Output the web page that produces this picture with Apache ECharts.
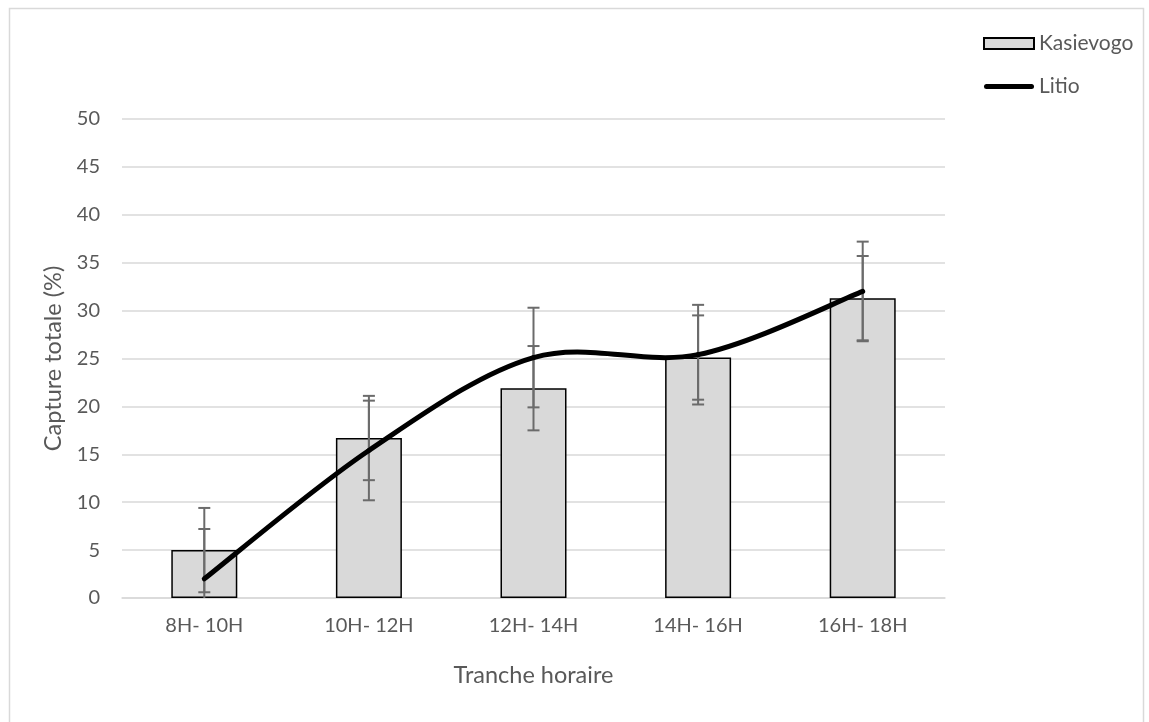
<!DOCTYPE html>
<html lang="fr">
<head>
  <meta charset="UTF-8">
  <title>Capture totale</title>
  <script type="text/javascript" src="https://cdn.jsdelivr.net/npm/echarts@6.0.0/dist/echarts.min.js"></script>
  <style>
    html, body { margin: 0; padding: 0; background: #fff; }
    #chart { width: 1149px; height: 722px; }
  </style>
</head>
<body>
  <div id="chart"></div>
  <script type="text/javascript">
    // valeurs
    var categories = ['8H- 10H', '10H- 12H', '12H- 14H', '14H- 16H', '16H- 18H'];
    var kasievogo = [5.0, 16.7, 21.9, 25.1, 31.3];
    var kasievogoErr = [4.4, 4.4, 4.4, 4.4, 4.4];
    var litio = [2.0, 15.4, 25.1, 25.4, 32.0];
    var litioErr = [5.2, 5.2, 5.2, 5.2, 5.2];

    var font = 'Lato, "Liberation Sans", sans-serif';
    var textColor = '#595959';

    function errData(vals, errs) {
      return vals.map(function (v, i) { return [i, v - errs[i], v + errs[i]]; });
    }

    function renderError(params, api) {
      var x = api.value(0);
      var lo = api.value(1), hi = api.value(2);
      var top = api.coord([x, hi]);
      var bot = api.coord([x, Math.max(lo, 0)]);
      var half = 6;
      var style = { stroke: '#6b6b6b', lineWidth: 2 };
      var kids = [
        { type: 'line', shape: { x1: top[0], y1: top[1], x2: bot[0], y2: bot[1] }, style: style },
        { type: 'line', shape: { x1: top[0] - half, y1: top[1], x2: top[0] + half, y2: top[1] }, style: style }
      ];
      if (lo >= 0) {
        kids.push({ type: 'line', shape: { x1: bot[0] - half, y1: bot[1], x2: bot[0] + half, y2: bot[1] }, style: style });
      }
      return { type: 'group', children: kids };
    }

    // courbe lissée façon Excel (catmull-rom -> bézier), un segment par point
    function renderCurve(params, api) {
      var i = params.dataIndex;
      var n = litio.length;
      if (i >= n - 1) return null;
      var p0 = api.coord([Math.max(i - 1, 0), litio[Math.max(i - 1, 0)]]);
      var p1 = api.coord([i, litio[i]]);
      var p2 = api.coord([i + 1, litio[i + 1]]);
      var p3 = api.coord([Math.min(i + 2, n - 1), litio[Math.min(i + 2, n - 1)]]);
      return {
        type: 'bezierCurve',
        shape: {
          x1: p1[0], y1: p1[1],
          x2: p2[0], y2: p2[1],
          cpx1: p1[0] + (p2[0] - p0[0]) / 6, cpy1: p1[1] + (p2[1] - p0[1]) / 6,
          cpx2: p2[0] - (p3[0] - p1[0]) / 6, cpy2: p2[1] - (p3[1] - p1[1]) / 6
        },
        style: { stroke: '#000', lineWidth: 5, fill: null, lineCap: 'round' }
      };
    }

    var chart = echarts.init(document.getElementById('chart'));

    var option = {
      backgroundColor: '#fff',
      animation: false,
      textStyle: { fontFamily: font },
      graphic: [{
        type: 'rect',
        left: 7, top: 6,
        shape: { width: 1134, height: 730 },
        style: { fill: 'none', stroke: '#d9d9d9', lineWidth: 1.5 },
        silent: true
      }],
      legend: {
        orient: 'vertical',
        left: 983,
        top: 33,
        padding: 0,
        itemWidth: 50,
        itemHeight: 11,
        itemGap: 22,
        textStyle: { fontFamily: font, fontSize: 21, color: textColor },
        data: [
          { name: 'Kasievogo', icon: 'rect' },
          { name: 'Litio', icon: 'path://M2.5,0 L47.5,0 A2.5,2.5 0 0 1 47.5,5 L2.5,5 A2.5,2.5 0 0 1 2.5,0 Z' }
        ]
      },
      grid: { left: 122, right: 204, top: 119, bottom: 124 },
      xAxis: {
        type: 'category',
        data: categories,
        name: 'Tranche horaire',
        nameLocation: 'middle',
        nameGap: 65,
        nameTextStyle: { fontFamily: font, fontSize: 23.5, color: textColor },
        axisLine: { lineStyle: { color: '#d9d9d9', width: 1.5 } },
        axisTick: { show: false },
        axisLabel: { fontFamily: font, fontSize: 20, color: textColor, margin: 18 }
      },
      yAxis: {
        type: 'value',
        min: 0,
        max: 50,
        interval: 5,
        name: 'Capture totale (%)',
        nameLocation: 'middle',
        nameGap: 53,
        nameTextStyle: { fontFamily: font, fontSize: 23.5, color: textColor },
        axisLine: { show: false },
        axisTick: { show: false },
        axisLabel: { fontFamily: font, fontSize: 20, color: textColor, margin: 22 },
        splitLine: { lineStyle: { color: '#d9d9d9', width: 1.5 } }
      },
      series: [
        {
          name: 'Kasievogo',
          type: 'bar',
          data: kasievogo,
          barWidth: 66,
          z: 2,
          itemStyle: { color: '#d9d9d9', borderColor: '#000', borderWidth: 1.5 }
        },
        {
          name: 'kasievogo-err',
          type: 'custom',
          data: errData(kasievogo, kasievogoErr),
          renderItem: renderError,
          z: 3,
          silent: true
        },
        {
          name: 'litio-err',
          type: 'custom',
          data: errData(litio, litioErr),
          renderItem: renderError,
          z: 3,
          silent: true
        },
        {
          name: 'Litio',
          type: 'custom',
          data: litio.map(function (v, i) { return [i, v]; }),
          renderItem: renderCurve,
          z: 4,
          silent: true,
          itemStyle: { color: '#000' }
        }
      ]
    };

    chart.setOption(option);
  </script>
</body>
</html>
